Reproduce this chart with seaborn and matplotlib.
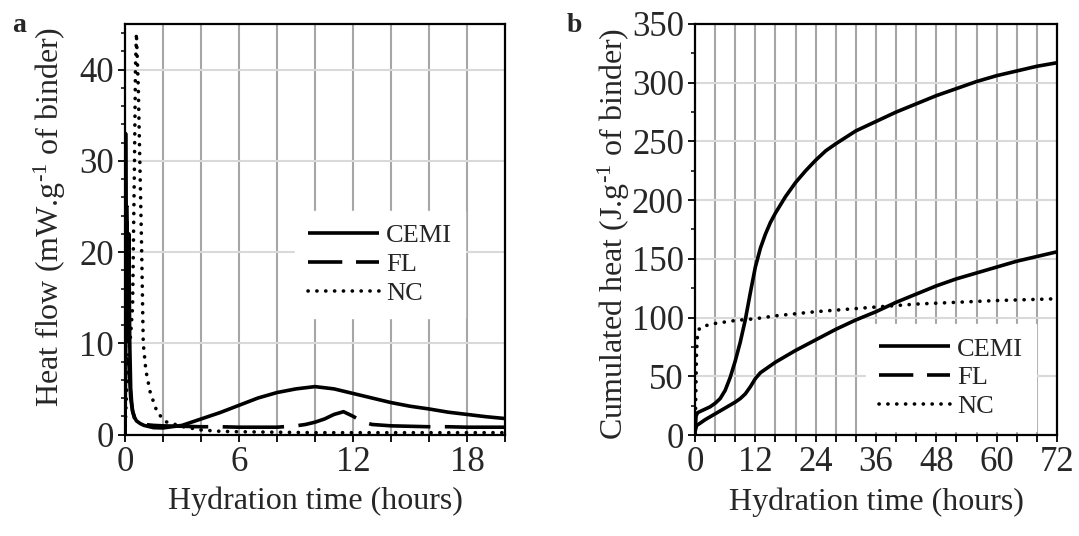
import numpy as np
import pandas as pd
import matplotlib
matplotlib.use("Agg")
import matplotlib.pyplot as plt
from matplotlib.lines import Line2D
from matplotlib.ticker import MultipleLocator, FuncFormatter
import seaborn as sns

# ---------------- data: panel a (heat flow, mW/g) ----------------
t_a_cemi = [0, 0.03, 0.06, 0.1, 0.15, 0.2, 0.25, 0.3, 0.35, 0.4, 0.5, 0.6, 0.8, 1.0, 1.5, 2, 3, 4, 5, 6, 7, 8, 9, 10,
            11, 12, 13, 14, 15, 16, 17, 18, 19, 20]
cemi_a = [0, 33, 20, 12, 15, 22, 10, 5, 3.5, 2.6, 1.9, 1.5, 1.2, 1.0, 0.75, 0.72, 1.0, 1.7, 2.4, 3.2, 4.0, 4.6, 5.0, 5.25,
          5.0, 4.5, 4.0, 3.5, 3.1, 2.8, 2.45, 2.2, 1.95, 1.75]

t_a_fl = [0, 0.05, 0.1, 0.15, 0.2, 0.3, 0.4, 0.5, 0.7, 1.0, 1.5, 2, 3, 4, 5, 6, 7, 8, 9, 9.5, 10, 10.5, 11, 11.5, 12,
          12.5, 13, 14, 15, 16, 17, 18, 19, 20]
fl_a = [0, 12, 25, 15, 8, 4, 2.5, 1.8, 1.3, 1.1, 1.0, 0.95, 0.9, 0.85, 0.85, 0.8, 0.8, 0.8, 0.95, 1.1, 1.35, 1.7, 2.2,
        2.5, 2.0, 1.4, 1.1, 0.95, 0.9, 0.85, 0.85, 0.8, 0.8, 0.8]

t_a_nc = [0, 0.05, 0.15, 0.3, 0.4, 0.5, 0.55, 0.6, 0.7, 0.8, 0.87, 0.96, 1.1, 1.33, 1.7, 2.15, 3.05, 4, 5, 6, 8, 10,
          12, 14, 16, 18, 20]
nc_a = [0, 3, 8, 11, 14, 30, 40, 44, 38, 28, 21, 10, 7, 4.6, 2.4, 1.4, 0.86, 0.5, 0.35, 0.3, 0.25, 0.2, 0.2, 0.2,
        0.2, 0.2, 0.2]

# ---------------- data: panel b (cumulated heat, J/g) ----------------
t_b_cemi = [0, 0.2, 0.5, 1, 2, 3, 4, 5, 6, 7, 8, 9, 10, 11, 12, 13, 14, 15, 16, 18, 20, 22, 24, 26, 28, 32, 36, 40,
            44, 48, 52, 56, 60, 64, 68, 72]
cemi_b = [0, 16, 19, 20, 22, 24, 27, 31, 38, 49, 63, 79, 98, 121, 143, 159, 171, 181, 189, 203, 215, 225, 234, 242,
          248, 259, 267, 275, 282, 289, 295, 301, 306, 310, 314, 317]

t_b_fl = [0, 0.3, 1, 2, 4, 6, 8, 9, 10, 11, 12, 13, 14, 16, 20, 24, 28, 32, 36, 40, 44, 48, 52, 56, 60, 64, 68, 72]
fl_b = [3, 8, 10, 13, 18, 23, 28, 31, 35, 41, 48, 53, 56, 62, 72, 81, 90, 98, 105, 113, 120, 127, 133, 138, 143, 148,
        152, 156]

t_b_nc = [0, 0.1, 0.2, 0.3, 0.5, 0.8, 1.2, 2, 4, 8, 12, 16, 24, 30, 36, 44, 52, 60, 72]
nc_b = [0, 20, 45, 70, 85, 90, 92, 93, 95, 97.5, 99, 101.5, 105, 107, 109, 111.5, 113, 114.5, 116]

series_labels = ["CEMI", "FL", "NC"]

# ---------------- style ----------------
sns.set_style("ticks")
plt.rcParams["font.family"] = ["Liberation Serif", "DejaVu Serif"]
plt.rcParams["mathtext.fontset"] = "custom"
plt.rcParams["mathtext.rm"] = "Liberation Serif"
plt.rcParams["mathtext.default"] = "regular"

FS_TICK = 25
FS_LAB = 23
LEG_FS = 19
LW = 2.6
SOLID = dict(linestyle="-", solid_capstyle="butt")
DASH_PLOT = dict(linestyle=(0, (17, 4)), dash_capstyle="butt")
DASH_LEG = dict(linestyle=(0, (9.5, 3.8)), dash_capstyle="butt")
DOT = dict(linestyle=(0, (0.05, 2.4)), dash_capstyle="round")

fig = plt.figure(figsize=(10.79, 5.36), dpi=100)
axa = fig.add_axes([125 / 1079, 1 - 434.5 / 536, 380 / 1079, 410.5 / 536])
axb = fig.add_axes([695 / 1079, 1 - 435 / 536, 362 / 1079, 411 / 536])

def draw(ax, t, y, style):
    df = pd.DataFrame({"t": t, "v": y})
    sns.lineplot(data=df, x="t", y="v", ax=ax, color="black", lw=LW, sort=False,
                 estimator=None, legend=False, **style)

draw(axa, t_a_nc, nc_a, DOT)
draw(axa, t_a_fl, fl_a, DASH_PLOT)
draw(axa, t_a_cemi, cemi_a, SOLID)

draw(axb, t_b_nc, nc_b, DOT)
draw(axb, t_b_fl, fl_b, SOLID)
draw(axb, t_b_cemi, cemi_b, SOLID)

def style_axes(ax, xmax, xstep, xlab_step, ymax, ymaj, ymin, ylabel):
    ax.set_xlim(0, xmax)
    ax.set_ylim(0, ymax)
    ax.xaxis.set_major_locator(MultipleLocator(xstep))
    ax.xaxis.set_major_formatter(FuncFormatter(
        lambda v, p: (f"{int(round(v))}" if abs(v / xlab_step - round(v / xlab_step)) < 1e-6 else "")))
    ax.yaxis.set_major_locator(MultipleLocator(ymaj))
    ax.yaxis.set_minor_locator(MultipleLocator(ymin))
    ax.tick_params(axis="both", which="major", direction="out", length=5, width=1.3,
                   labelsize=FS_TICK, pad=3, color="black", top=False, right=False)
    ax.tick_params(axis="y", which="minor", direction="out", length=3, width=1.3, left=True)
    ax.grid(False)
    for v in np.arange(xstep, xmax, xstep):
        ax.axvline(v, color="#a6a6a6", lw=1.5, zorder=0)
    for v in np.arange(ymaj, ymax, ymaj):
        ax.axhline(v, color="#d9d9d9", lw=1.5, zorder=0)
    for s in ax.spines.values():
        s.set_visible(True)
        s.set_color("black")
        s.set_linewidth(1.6)
    ax.set_xlabel("Hydration time (hours)", fontsize=FS_LAB, labelpad=6)
    ax.set_ylabel(ylabel, fontsize=FS_LAB)

style_axes(axa, 20, 2, 6, 45, 10, 2, r"Heat flow (mW.g$^{\text{-1}}$ of binder)")
style_axes(axb, 72, 4, 12, 350, 50, 25, r"Cumulated heat (J.g$^{\text{-1}}$ of binder)")
axa.yaxis.set_label_coords(-0.15, 0.53)
axb.yaxis.set_label_coords(-0.175, 0.49)

handles = [Line2D([], [], color="black", lw=LW, **SOLID),
           Line2D([], [], color="black", lw=LW, **DASH_LEG),
           Line2D([], [], color="black", lw=LW, **DOT)]
for ax, anchor in ((axa, (0.447, 0.545)), (axb, (0.472, 0.27))):
    leg = ax.legend(handles, series_labels, loc="upper left", bbox_to_anchor=anchor,
                    fontsize=LEG_FS, frameon=True, fancybox=False, handlelength=2.7,
                    handletextpad=0.25, labelspacing=0.2, borderpad=0.5, borderaxespad=0)
    leg.get_frame().set_facecolor("white")
    leg.get_frame().set_edgecolor("white")
    leg.get_frame().set_alpha(1)

fig.text(12 / 1079, 1 - 32 / 536, "a", fontsize=20, fontweight="bold", va="baseline", ha="left")
fig.text(567 / 1079, 1 - 32 / 536, "b", fontsize=20, fontweight="bold", va="baseline", ha="left")

fig.savefig("out.png", dpi=100)
